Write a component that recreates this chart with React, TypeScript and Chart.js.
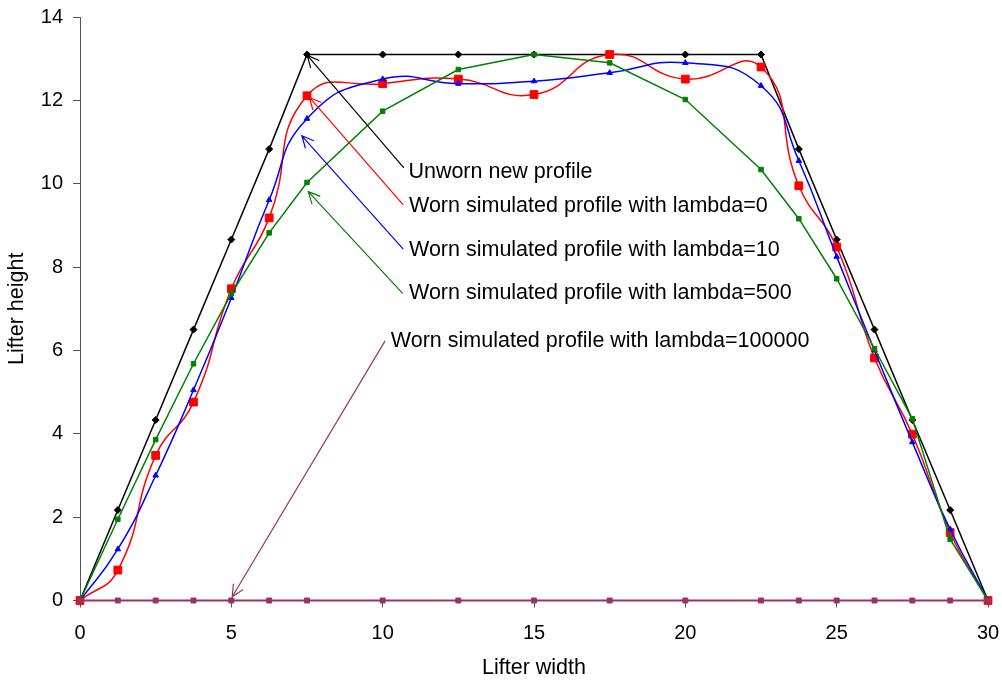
import { useEffect, useRef } from "react";
import { Chart, registerables } from "chart.js";

Chart.register(...registerables);

const FONT = "'Liberation Sans', Arial, Helvetica, sans-serif";

// ---- data ----
const xValues = [0, 1.25, 2.5, 3.75, 5, 6.25, 7.5, 10, 12.5, 15, 17.5, 20, 22.5, 23.75, 25, 26.25, 27.5, 28.75, 30];
const unworn = [0, 2.17, 4.33, 6.5, 8.66, 10.83, 13.1, 13.1, 13.1, 13.1, 13.1, 13.1, 13.1, 10.83, 8.66, 6.5, 4.33, 2.17, 0];
const lambda0 = [0, 0.73, 3.48, 4.76, 7.48, 9.18, 12.11, 12.4, 12.51, 12.14, 13.1, 12.51, 12.8, 9.95, 8.48, 5.82, 3.99, 1.63, 0];
const lambda10 = [0, 1.23, 3.0, 5.05, 7.26, 9.61, 11.56, 12.51, 12.4, 12.46, 12.66, 12.9, 12.35, 10.55, 8.25, 6.0, 3.8, 1.71, 0];
const lambda500 = [0, 1.95, 3.86, 5.68, 7.36, 8.82, 10.03, 11.74, 12.74, 13.1, 12.9, 12.02, 10.34, 9.16, 7.72, 6.04, 4.36, 1.47, 0];
const lambda100000 = [0, 0, 0, 0, 0, 0, 0, 0, 0, 0, 0, 0, 0, 0, 0, 0, 0, 0, 0];

const seriesLabels = [
  "Unworn new profile",
  "Worn simulated profile with lambda=0",
  "Worn simulated profile with lambda=10",
  "Worn simulated profile with lambda=500",
  "Worn simulated profile with lambda=100000",
];
const seriesColors = ["#000000", "#ff0000", "#0000ff", "#008000", "#993366"];

// annotation anchors in data units: [x, y]
const labelAnchors = [[10.85, 10.13], [10.87, 9.31], [10.87, 8.27], [10.87, 7.23], [10.27, 6.09]];
const arrowTails = [[10.7, 10.38], [10.68, 9.49], [10.68, 8.43], [10.66, 7.37], [10.08, 6.23]];
const arrowTips = [[7.51, 13.08], [7.58, 12.07], [7.33, 11.15], [7.54, 9.81], [5.03, 0.09]];

const xTicks = [0, 5, 10, 15, 20, 25, 30];
const yTicks = [0, 2, 4, 6, 8, 10, 12, 14];

const toPoints = (ys: number[]) => xValues.map((x, i) => ({ x, y: ys[i] }));

const annotationPlugin = {
  id: "arrowLabels",
  afterDatasetsDraw(chart: any) {
    const { ctx, scales } = chart;
    const xs = scales.x;
    const ys = scales.y;
    ctx.save();
    for (let i = 0; i < seriesLabels.length; i++) {
      const color = seriesColors[i];
      const tx = xs.getPixelForValue(arrowTails[i][0]);
      const ty = ys.getPixelForValue(arrowTails[i][1]);
      const px = xs.getPixelForValue(arrowTips[i][0]);
      const py = ys.getPixelForValue(arrowTips[i][1]);
      ctx.strokeStyle = color;
      ctx.lineWidth = 1.2;
      ctx.beginPath();
      ctx.moveTo(tx, ty);
      ctx.lineTo(px, py);
      const ang = Math.atan2(ty - py, tx - px);
      const len = 13;
      const spread = 0.45;
      ctx.moveTo(px + len * Math.cos(ang - spread), py + len * Math.sin(ang - spread));
      ctx.lineTo(px, py);
      ctx.lineTo(px + len * Math.cos(ang + spread), py + len * Math.sin(ang + spread));
      ctx.stroke();

      ctx.fillStyle = "#000";
      ctx.font = `21.5px ${FONT}`;
      ctx.textAlign = "left";
      ctx.textBaseline = "alphabetic";
      ctx.fillText(
        seriesLabels[i],
        xs.getPixelForValue(labelAnchors[i][0]),
        ys.getPixelForValue(labelAnchors[i][1])
      );
    }
    ctx.restore();
  },
};

export default function App() {
  const canvasRef = useRef<HTMLCanvasElement | null>(null);

  useEffect(() => {
    if (!canvasRef.current) return;
    const series = [unworn, lambda0, lambda10, lambda500, lambda100000];
    const styles = ["rectRot", "rect", "triangle", "rect", "rect"];
    const radii = [3.5, 5.5, 3.2, 3.2, 3.5];
    const tensions = [0, 0.5, 0.5, 0, 0];
    const widths = [1.5, 1.5, 1.5, 1.5, 2];
    const orders = [5, 4, 3, 2, 1];
    const chart = new Chart(canvasRef.current, {
      type: "line",
      data: {
        datasets: series.map((ys, i) => ({
          label: seriesLabels[i],
          data: toPoints(ys),
          borderColor: seriesColors[i],
          backgroundColor: seriesColors[i],
          pointBackgroundColor: seriesColors[i],
          pointBorderColor: seriesColors[i],
          pointBorderWidth: 1,
          pointStyle: styles[i] as any,
          pointRadius: radii[i],
          borderWidth: widths[i],
          tension: tensions[i],
          fill: false,
          clip: false as any,
          order: orders[i],
        })),
      },
      options: {
        animation: false,
        responsive: false,
        events: [],
        layout: { padding: { left: 0, right: 14, top: 17, bottom: 0 } },
        plugins: { legend: { display: false }, tooltip: { enabled: false } },
        scales: {
          x: {
            type: "linear",
            min: 0,
            max: 30,
            afterBuildTicks: (s: any) => {
              s.ticks = xTicks.map((v) => ({ value: v }));
            },
            afterFit: (s: any) => {
              s.height = 81.5;
              s.paddingLeft = 0;
              s.paddingRight = 0;
            },
            ticks: { font: { family: FONT, size: 20 }, color: "#000", padding: 14, maxRotation: 0, autoSkip: false },
            grid: { display: true, drawOnChartArea: false, drawTicks: true, tickLength: 7, color: "#555" },
            border: { display: true, color: "#555", width: 1 },
            title: {
              display: true,
              text: "Lifter width",
              font: { family: FONT, size: 21.5 },
              color: "#000",
              padding: { top: 0, bottom: 1 },
            },
          },
          y: {
            type: "linear",
            min: 0,
            max: 14,
            afterBuildTicks: (s: any) => {
              s.ticks = yTicks.map((v) => ({ value: v }));
            },
            afterFit: (s: any) => {
              s.width = 80;
              s.paddingTop = 0;
              s.paddingBottom = 0;
            },
            ticks: { font: { family: FONT, size: 20 }, color: "#000", padding: 10, autoSkip: false },
            grid: { display: true, drawOnChartArea: false, drawTicks: true, tickLength: 7, color: "#555" },
            border: { display: true, color: "#555", width: 1 },
            title: {
              display: true,
              text: "Lifter height",
              font: { family: FONT, size: 21.5 },
              color: "#000",
              padding: { top: 4, bottom: 0 },
            },
          },
        },
      },
      plugins: [annotationPlugin],
    });
    return () => chart.destroy();
  }, []);

  return (
    <div style={{ position: "absolute", left: 0, top: 0, width: 1002, height: 682, background: "#fff" }}>
      <canvas ref={canvasRef} width={1002} height={682} style={{ display: "block" }} />
    </div>
  );
}
